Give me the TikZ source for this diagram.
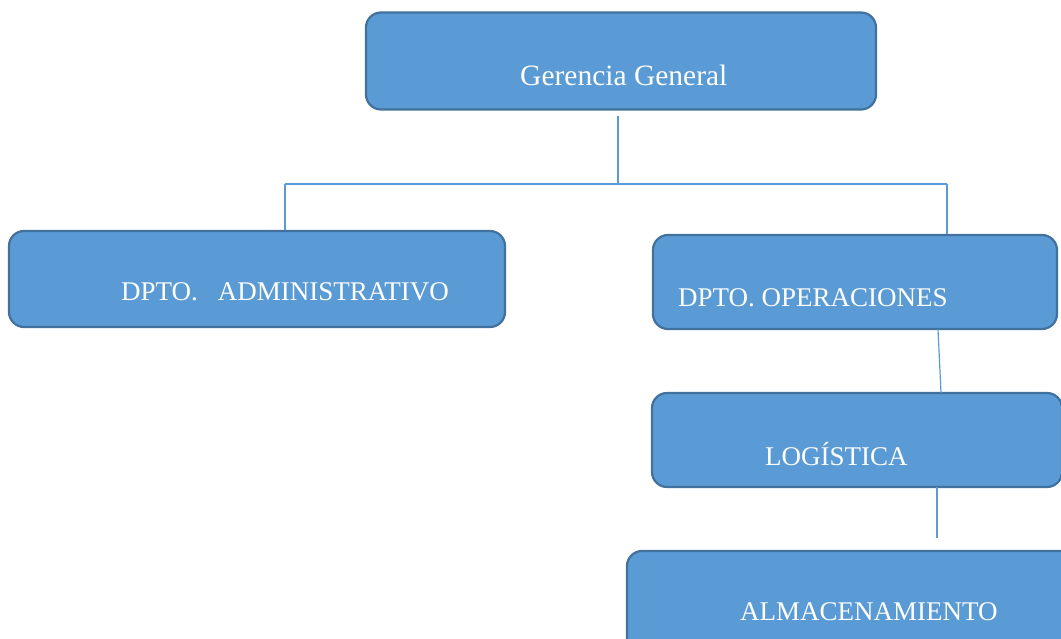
\documentclass[tikz,border=0pt]{standalone}
\usepackage{fontspec}
\setmainfont{Liberation Serif}
\definecolor{boxfill}{HTML}{5B9BD5}
\definecolor{boxedge}{HTML}{41719C}
\definecolor{linec}{HTML}{5B9BD5}
\begin{document}
\begin{tikzpicture}[x=1pt,y=-1pt,
  orgbox/.style={draw=boxedge, line width=2.2pt, fill=boxfill, rounded corners=15pt, rectangle, inner sep=0pt},
  lbl/.style={anchor=base west, inner sep=0pt, text=white, font=\fontsize{27}{30}\selectfont},
  conn/.style={draw=linec, line width=1.2pt}]
\useasboundingbox (0,0) rectangle (1061,639);
\clip (0,0) rectangle (1061,639);
\fill[white] (0,0) rectangle (1061,639);
% boxes
\node[orgbox, minimum width=510pt, minimum height=97pt] (gg) at (621,61) {};
\node[orgbox, minimum width=496pt, minimum height=96pt] (adm) at (257,279) {};
\node[orgbox, minimum width=404pt, minimum height=94pt] (ope) at (855,282) {};
\node[orgbox, minimum width=410pt, minimum height=94pt] (log) at (857,440) {};
\node[orgbox, minimum width=460pt, minimum height=120pt] (alm) at (857,611) {};
% labels
\node[lbl, font=\fontsize{29.5}{32}\selectfont] (tgg) at (520,86) {Gerencia General};
\node[lbl] (tadm) at (121,301) {DPTO.\hspace{20pt}ADMINISTRATIVO};
\node[lbl] (tope) at (678,307) {DPTO. OPERACIONES};
\node[lbl] (tlog) at (765,465) {LOGÍSTICA};
\node[lbl] (talm) at (740,620) {ALMACENAMIENTO};
% connectors
\coordinate (ggb) at (618,116);
\coordinate (jn) at (618,184);
\coordinate (jl) at (285,184);
\coordinate (jr) at (947,184);
\draw[conn] (ggb) -- (jn);
\draw[conn] (jl) -- (jr);
\draw[conn] (jl) -- (jl |- adm.north);
\draw[conn] (jr) -- (jr |- ope.north);
\coordinate (o1) at (938,329);
\coordinate (o2) at (941,393);
\draw[conn] (o1) -- (o2);
\coordinate (l1) at (937,487);
\coordinate (l2) at (937,538);
\draw[conn] (l1) -- (l2);
\end{tikzpicture}
\end{document}
